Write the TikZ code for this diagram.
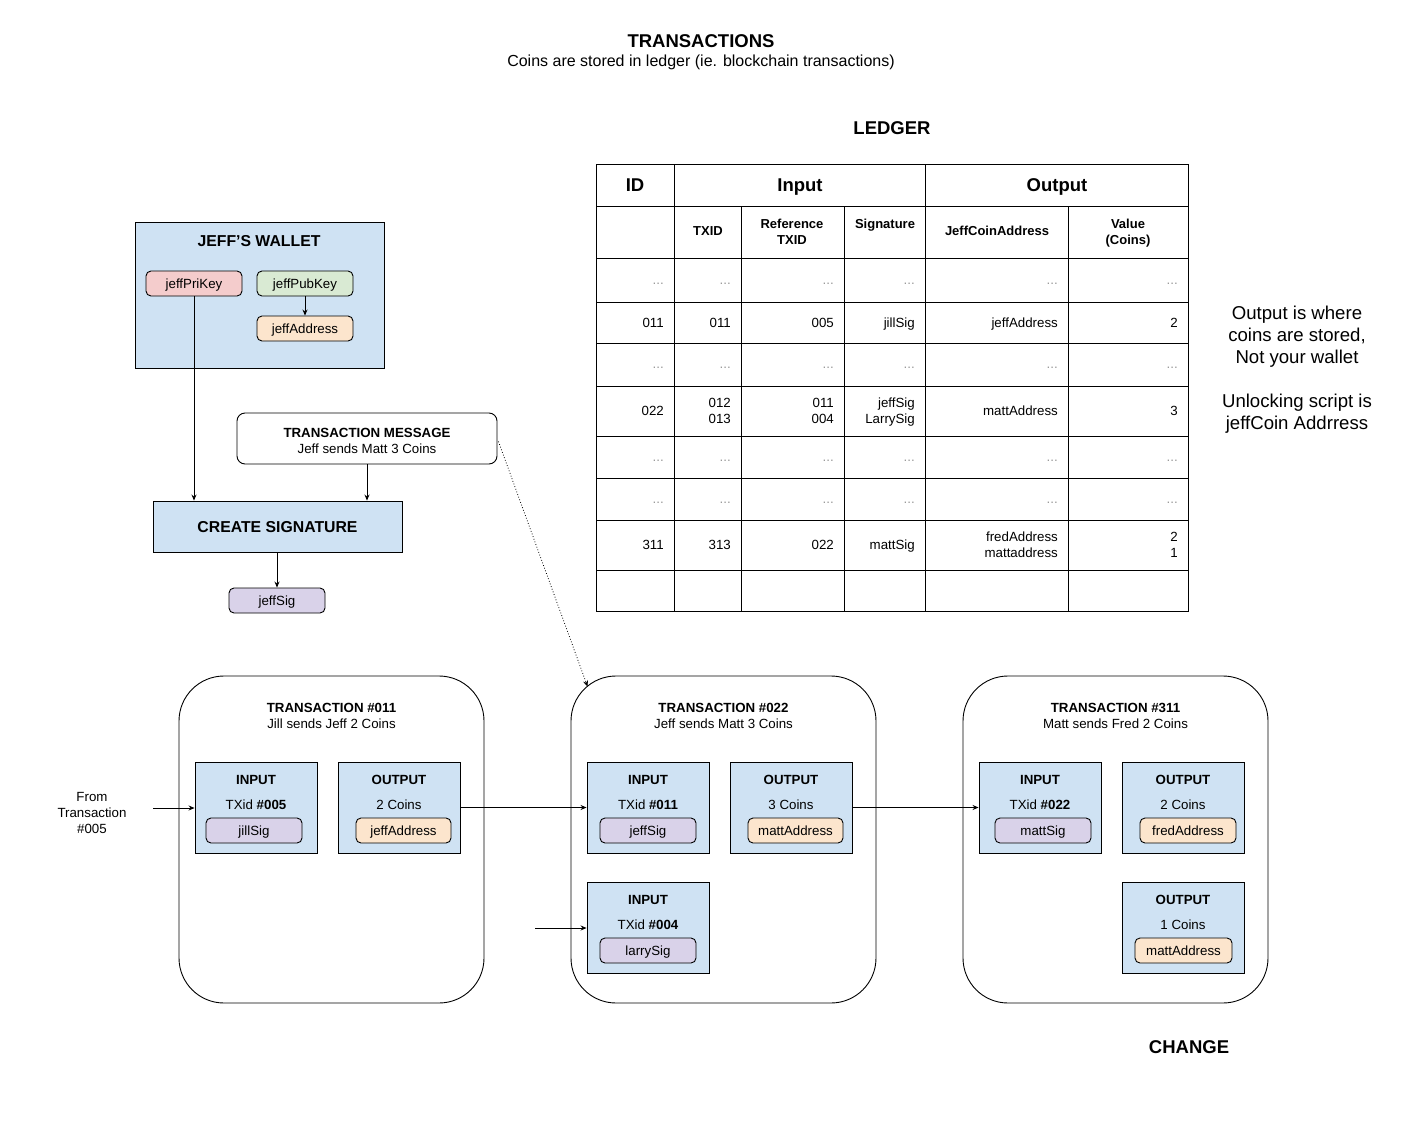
\documentclass[tikz,border=0pt]{standalone}
\usepackage{fontspec}
\setmainfont{Liberation Sans}
\usetikzlibrary{arrows.meta,calc}
\definecolor{boxblue}{HTML}{CFE2F3}
\definecolor{keypink}{HTML}{F4CCCC}
\definecolor{keygreen}{HTML}{D9EAD3}
\definecolor{addrorange}{HTML}{FCE5CD}
\definecolor{sigpurple}{HTML}{D9D2E9}
\definecolor{dotgray}{HTML}{999999}
\begin{document}
\begin{tikzpicture}[x=1pt,y=-1pt,
  every node/.style={inner sep=0pt},
  plain/.style={font=\fontsize{13.3}{16}\selectfont},
  txt/.style={plain, text height=9.6pt, text depth=0pt},
  bigbold/.style={font=\fontsize{18.5}{22}\selectfont\bfseries, text height=13.3pt, text depth=0pt},
  midbold/.style={font=\fontsize{15.8}{19}\selectfont\bfseries},
  smallbold/.style={font=\fontsize{13.3}{16}\selectfont\bfseries, text height=9.6pt, text depth=0pt},
  cell/.style={anchor=east, font=\fontsize{13.3}{16}\selectfont, text height=9.6pt, text depth=0pt},
  dots/.style={cell, text=dotgray},
  hcell/.style={font=\fontsize{13}{16}\selectfont\bfseries, text height=9.4pt, text depth=0pt},
  pill/.style={draw, line width=0.9pt, rounded corners=5pt, minimum width=96pt, minimum height=25pt,
    font=\fontsize{13.3}{16}\selectfont, text height=9.6pt, text depth=0pt},
  panel/.style={draw, line width=0.9pt, fill=boxblue},
  iobox/.style={panel, minimum width=122pt, minimum height=91pt},
  txbox/.style={draw, line width=0.9pt, rounded corners=45pt, minimum width=305pt, minimum height=327pt},
  arr/.style={line width=0.8pt, -{Stealth[length=6pt,width=5pt]}},
  rule/.style={line width=1pt}
]
\useasboundingbox[fill=white] (0,0) rectangle (1403,1146);

% headings
\node[bigbold] (title) at (701,41) {TRANSACTIONS};
\node[font=\fontsize{16}{19}\selectfont, text height=11.5pt, text depth=0pt] (subtitle) at (701,61) {Coins are stored in ledger (ie. blockchain transactions)};
\node[bigbold] (ledger) at (892,128) {LEDGER};

% ledger table grid
\draw[rule] (596,164) rectangle (1188,611);
\foreach \ry in {206,258,302,343,386,436,478,520,570}
  \draw[rule] (596,\ry) -- (1188,\ry);
\foreach \cx in {674,925}
  \draw[rule] (\cx,164) -- (\cx,611);
\foreach \cx in {741,844,1068}
  \draw[rule] (\cx,206) -- (\cx,611);

% table headings
\node[bigbold] (hid) at (635,185) {ID};
\node[bigbold] (hin) at (800,185) {Input};
\node[bigbold] (hout) at (1057,185) {Output};
\node[hcell] (htxid) at (708,231) {TXID};
\node[hcell] (href1) at (792,224) {Reference};
\node[hcell] (href2) at (792,240) {TXID};
\node[hcell] (hsig) at (885,224) {Signature};
\node[hcell] (haddr) at (997,231) {JeffCoinAddress};
\node[hcell] (hval1) at (1128,224) {Value};
\node[hcell] (hval2) at (1128,240) {(Coins)};

% rows of dots
\foreach \ry [count=\k] in {280,364,457,499}
  \foreach \cx [count=\j] in {664,731,834,915,1058,1178}
    \node[dots] (dot-\k-\j) at (\cx,\ry) {...};

% row 011
\node[cell] (r1a) at (664,323) {011};
\node[cell] (r1b) at (731,323) {011};
\node[cell] (r1c) at (834,323) {005};
\node[cell] (r1d) at (915,323) {jillSig};
\node[cell] (r1e) at (1058,323) {jeffAddress};
\node[cell] (r1f) at (1178,323) {2};

% row 022
\node[cell] (r2a) at (664,411) {022};
\node[cell] (r2b1) at (731,403) {012};
\node[cell] (r2b2) at (731,419) {013};
\node[cell] (r2c1) at (834,403) {011};
\node[cell] (r2c2) at (834,419) {004};
\node[cell] (r2d1) at (915,403) {jeffSig};
\node[cell] (r2d2) at (915,419) {LarrySig};
\node[cell] (r2e) at (1058,411) {mattAddress};
\node[cell] (r2f) at (1178,411) {3};

% row 311
\node[cell] (r3a) at (664,545) {311};
\node[cell] (r3b) at (731,545) {313};
\node[cell] (r3c) at (834,545) {022};
\node[cell] (r3d) at (915,545) {mattSig};
\node[cell] (r3e1) at (1058,537) {fredAddress};
\node[cell] (r3e2) at (1058,553) {mattaddress};
\node[cell] (r3f1) at (1178,537) {2};
\node[cell] (r3f2) at (1178,553) {1};

% side note
\node[align=center, font=\fontsize{18.6}{22}\selectfont] (note) at (1297,370)
  {Output is where\\coins are stored,\\Not your wallet\\[22pt]Unlocking script is\\jeffCoin Addrress};

% wallet
\node[panel, minimum width=249pt, minimum height=146pt] (wallet) at (259.5,295) {};
\node[midbold] (wallettitle) at (259,241) {JEFF'S WALLET};
\node[pill, fill=keypink] (prikey) at (194,283.5) {jeffPriKey};
\node[pill, fill=keygreen] (pubkey) at (305,283.5) {jeffPubKey};
\node[pill, fill=addrorange] (jeffaddr) at (305,328.5) {jeffAddress};
\draw[arr] (pubkey) -- (jeffaddr);

% signing
\node[draw, line width=0.9pt, rounded corners=8pt, minimum width=260pt, minimum height=51pt] (txmsg) at (367,438.5) {};
\node[smallbold] (txmsgtitle) at (367,433) {TRANSACTION MESSAGE};
\node[txt] (txmsgsub) at (367,449) {Jeff sends Matt 3 Coins};
\node[panel, minimum width=249pt, minimum height=51pt, midbold, text height=11.3pt, text depth=0pt] (createsig) at (277.5,526.5) {CREATE SIGNATURE};
\node[pill, fill=sigpurple] (jeffsig) at (277,600.5) {jeffSig};
\draw[arr] (prikey.south) -- (prikey.south |- createsig.north);
\draw[arr] (txmsg.south) -- (txmsg.south |- createsig.north);
\draw[arr] (createsig.south -| jeffsig.north) -- (jeffsig.north);

% transaction 011
\node[txbox] (tx011) at (331.5,839.5) {};
\node[smallbold] (tx011title) at (331.5,708) {TRANSACTION \#011};
\node[txt] (tx011sub) at (331.5,724) {Jill sends Jeff 2 Coins};
\node[iobox] (in011) at (256,807.5) {};
\node[smallbold] (in011head) at (256,780) {INPUT};
\node[txt] (in011id) at (256,805) {TXid \textbf{\#005}};
\node[pill, fill=sigpurple] (jillsig) at (254,830.5) {jillSig};
\node[iobox] (out011) at (399,807.5) {};
\node[smallbold] (out011head) at (399,780) {OUTPUT};
\node[txt] (out011val) at (399,805) {2 Coins};
\node[pill, fill=addrorange, minimum width=95pt] (out011addr) at (403.5,830.5) {jeffAddress};

% transaction 022
\node[txbox] (tx022) at (723.5,839.5) {};
\node[smallbold] (tx022title) at (723.5,708) {TRANSACTION \#022};
\node[txt] (tx022sub) at (723.5,724) {Jeff sends Matt 3 Coins};
\node[iobox] (in022a) at (648,807.5) {};
\node[smallbold] (in022ahead) at (648,780) {INPUT};
\node[txt] (in022aid) at (648,805) {TXid \textbf{\#011}};
\node[pill, fill=sigpurple] (in022asig) at (648,830.5) {jeffSig};
\node[iobox] (out022) at (791,807.5) {};
\node[smallbold] (out022head) at (791,780) {OUTPUT};
\node[txt] (out022val) at (791,805) {3 Coins};
\node[pill, fill=addrorange, minimum width=95pt] (out022addr) at (795.5,830.5) {mattAddress};
\node[iobox] (in022b) at (648,927.5) {};
\node[smallbold] (in022bhead) at (648,900) {INPUT};
\node[txt] (in022bid) at (648,925) {TXid \textbf{\#004}};
\node[pill, fill=sigpurple] (in022bsig) at (648,950.5) {larrySig};

% transaction 311
\node[txbox] (tx311) at (1115.5,839.5) {};
\node[smallbold] (tx311title) at (1115.5,708) {TRANSACTION \#311};
\node[txt] (tx311sub) at (1115.5,724) {Matt sends Fred 2 Coins};
\node[iobox] (in311) at (1040,807.5) {};
\node[smallbold] (in311head) at (1040,780) {INPUT};
\node[txt] (in311id) at (1040,805) {TXid \textbf{\#022}};
\node[pill, fill=sigpurple] (in311sig) at (1043,830.5) {mattSig};
\node[iobox] (out311a) at (1183,807.5) {};
\node[smallbold] (out311ahead) at (1183,780) {OUTPUT};
\node[txt] (out311aval) at (1183,805) {2 Coins};
\node[pill, fill=addrorange] (out311aaddr) at (1188,830.5) {fredAddress};
\node[iobox] (out311b) at (1183,927.5) {};
\node[smallbold] (out311bhead) at (1183,900) {OUTPUT};
\node[txt] (out311bval) at (1183,925) {1 Coins};
\node[pill, fill=addrorange, minimum width=97pt] (out311baddr) at (1183.5,950.5) {mattAddress};

% links between transactions
\node[plain, align=center] (from005) at (92,813) {From\\Transaction\\\#005};
\coordinate (src005) at (153,808);
\coordinate (src004) at (535,928);
\draw[arr] (src005) -- (src005 -| in011.west);
\draw[arr] (out011.east) -- (in022a.west);
\draw[arr] (out022.east) -- (in311.west);
\draw[arr] (src004) -- (src004 -| in022b.west);
\draw[arr, dotted] ($(txmsg.east)+(1,3)$) -- ($(tx022.north west)+(17,11)$);

\node[bigbold] (change) at (1189,1047) {CHANGE};
\end{tikzpicture}
\end{document}
